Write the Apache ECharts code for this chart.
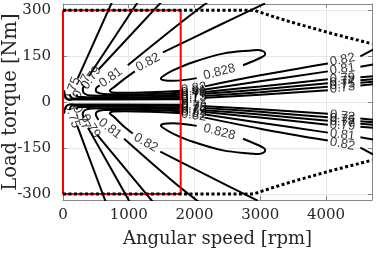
<!DOCTYPE html>
<html><head><meta charset="utf-8">
<script src="https://cdn.jsdelivr.net/npm/echarts@6/dist/echarts.min.js"></script>
<style>html,body{margin:0;padding:0;background:#fff}#c{width:386px;height:253px}</style>
</head><body><div id="c"></div>
<script>
// ---- data (speed in rpm, torque in Nm) ----
const speedTicks = [0, 1000, 2000, 3000, 4000];
const torqueTicks = [-300, -150, 0, 150, 300];
const redBox = [[0,300],[1790,300],[1790,-300],[0,-300],[0,300]];
const limitUpper = [[0,300],[2900,300],[3300,272],[3600,253],[4100,223],[4700,190]];
const limitLower = [[0,-300],[2900,-300],[3300,-272],[3600,-253],[4100,-223],[4700,-190]];

const level0828 = [
  [[2034,78],[1672,69],[1535,71],[1489,77],[1520,84],[1672,103],[1977,130],[2434,158],[2892,169],[2967,170],[3059,164],[3075,155],[3029,147],[2739,120]],
  [[2034,-78],[1672,-69],[1535,-71],[1489,-77],[1520,-84],[1672,-103],[1977,-130],[2434,-158],[2892,-169],[2967,-170],[3059,-164],[3075,-155],[3029,-147],[2739,-120]]
];
const level082 = [
  [[3075,322],[2312,244],[1520,162]],
  [[1093,100],[925,74],[773,48],[712,37],[758,31],[941,30],[1322,32],[1825,37]],
  [[2160,51],[2998,87],[4029,126]],
  [[4523,149],[4721,172]],
  [[2960,-322],[2230,-244],[1480,-162]],
  [[1060,-103],[905,-76],[773,-48],[712,-37],[758,-31],[941,-30],[1322,-32],[1825,-37]],
  [[2160,-51],[2998,-87],[4029,-126]],
  [[4523,-149],[4721,-172]]
];
const level081 = [
  [[2236,332],[1779,257],[986,120]],
  [[559,54],[499,41],[514,32],[620,26],[1017,25],[1825,30]],
  [[2160,41],[2998,67.5],[4029,100]],
  [[4523,115],[4721,123]],
  [[2100,-332],[1660,-257],[930,-120]],
  [[540,-58],[499,-41],[514,-32],[620,-26],[1017,-25],[1825,-30]],
  [[2160,-41],[2998,-67.5],[4029,-100]],
  [[4523,-115],[4721,-123]]
];
const level079 = [
  [[1520,332],[544,107]],
  [[316,51],[300,41],[331,27],[438,21],[864,20],[1825,23.5]],
  [[2160,33],[2998,51],[4029,74]],
  [[4523,80.5],[4721,84]],
  [[1390,-332],[520,-107]],
  [[316,-51],[300,-41],[331,-27],[438,-21],[864,-20],[1825,-23.5]],
  [[2160,-33],[2998,-51],[4029,-74]],
  [[4523,-80.5],[4721,-84]]
];
const level077 = [
  [[1155,332],[392,84]],
  [[209,25],[224,17],[331,16],[864,15.3],[1825,18]],
  [[2160,27],[2998,41],[4029,61]],
  [[4523,71],[4721,74]],
  [[1030,-332],[380,-84]],
  [[209,-25],[224,-17],[331,-16],[864,-15.3],[1825,-18]],
  [[2160,-27],[2998,-41],[4029,-61]],
  [[4523,-71],[4721,-74]]
];
const level075 = [
  [[758,332],[224,77]],
  [[102,25],[133,12.7],[255,11.4],[864,10.4],[1825,12.7]],
  [[2160,20],[2998,32],[4029,50]],
  [[4523,63],[4721,66]],
  [[660,-332],[215,-77]],
  [[102,-25],[133,-12.7],[255,-11.4],[864,-10.4],[1825,-12.7]],
  [[2160,-20],[2998,-32],[4029,-50]],
  [[4523,-63],[4721,-66]]
];
const level073 = [
  [[18,38],[41,15.3],[102,7.8],[1825,8.8]],
  [[2160,13.7],[2998,23.5],[4029,38]],
  [[4523,54],[4721,58]],
  [[18,-38],[41,-15.3],[102,-7.8],[1825,-8.8]],
  [[2160,-13.7],[2998,-23.5],[4029,-38]],
  [[4523,-54],[4721,-58]]
];

// contour labels: [text, speed, torque]
const contourLabels = [
  ['0.82',1291,129],['0.81',727,80],['0.79',430,79],['0.77',285,51],['0.75',140,41],
  ['0.82',1990,44],['0.81',1990,35.5],['0.79',1990,28],['0.77',1990,22.5],['0.75',1990,16],['0.73',1990,11],
  ['0.828',2380,98],
  ['0.82',4250,137.5],['0.81',4250,107.5],['0.79',4250,77],['0.77',4250,66],['0.75',4250,56.5],['0.73',4250,46],
  ['0.82',1260,-133],['0.81',715,-87],['0.79',420,-79],['0.77',280,-51],['0.75',140,-45],
  ['0.82',1990,-44],['0.81',1990,-35.5],['0.79',1990,-28],['0.77',1990,-22.5],['0.75',1990,-16],['0.73',1990,-11],
  ['0.828',2380,-98],
  ['0.82',4250,-137.5],['0.81',4250,-107.5],['0.79',4250,-77],['0.77',4250,-66],['0.75',4250,-56.5],['0.73',4250,-46]
];
const labelAngles = [
  28,36,55,63,70, 8,8,8,8,8,8, 14, 11,7,3,5,6,7,
  -30,-38,-57,-65,-72, -8,-8,-8,-8,-8,-8, -14, -11,-7,-3,-5,-6,-7
];

// ---- chart ----
const AX = '#868686';
const TXT = '#262626';
const series = [];
[level0828, level082, level081, level079, level077, level075, level073].forEach(level => {
  level.forEach(seg => series.push({
    type:'line', data:seg, showSymbol:false, smooth:0.35, silent:true,
    lineStyle:{color:'#000', width:2}, z:2
  }));
});
series.push({type:'line', data:redBox, showSymbol:false, silent:true,
  lineStyle:{color:'#ff0000', width:2}, z:3});
[limitUpper, limitLower].forEach(d => series.push({
  type:'line', data:d, showSymbol:false, silent:true,
  lineStyle:{color:'#000', width:3, type:[3,2.5], cap:'butt'}, z:4
}));
series.push({
  type:'scatter', symbolSize:0, silent:true, z:5,
  data: contourLabels.map((l,i) => ({value:[l[1], l[2]], label:{formatter:l[0], rotate:labelAngles[i]}})),
  label:{show:true, position:'inside', color:'#000', fontFamily:'Liberation Sans', fontSize:13}
});

const plain = v => String(v);
const chart = echarts.init(document.getElementById('c'), null, {renderer:'canvas'});
chart.setOption({
  animation:false,
  backgroundColor:'#fff',
  grid:{left:63, right:14, top:4, bottom:53, containLabel:false, outerBoundsMode:'none'},
  xAxis:[{
    type:'value', min:0, max:4700, position:'bottom',
    axisLine:{show:true, onZero:false, lineStyle:{color:AX}},
    axisTick:{show:true, inside:true, length:4, customValues:speedTicks, lineStyle:{color:AX}},
    axisLabel:{customValues:speedTicks, formatter:plain, fontFamily:'DejaVu Serif', fontSize:15, color:TXT, margin:8},
    splitLine:{show:true, lineStyle:{color:'#e6e6e6'}},
    name:'Angular speed [rpm]', nameLocation:'middle', nameGap:30, nameMoveOverlap:false,
    nameTextStyle:{fontFamily:'DejaVu Serif', fontSize:18, color:TXT}
  },{
    type:'value', min:0, max:4700, position:'top',
    axisLine:{show:true, onZero:false, lineStyle:{color:AX}},
    axisTick:{show:true, inside:true, length:4, customValues:speedTicks, lineStyle:{color:AX}},
    axisLabel:{show:false}, splitLine:{show:false}
  }],
  yAxis:[{
    type:'value', min:-320, max:320, position:'left',
    axisLine:{show:true, onZero:false, lineStyle:{color:AX}},
    axisTick:{show:true, inside:true, length:4, customValues:torqueTicks, lineStyle:{color:AX}},
    axisLabel:{customValues:torqueTicks, formatter:plain, fontFamily:'DejaVu Serif', fontSize:15, color:TXT, margin:12},
    splitLine:{show:true, lineStyle:{color:'#e6e6e6'}},
    name:'Load torque [Nm]', nameLocation:'middle', nameGap:42, nameMoveOverlap:false,
    nameTextStyle:{fontFamily:'DejaVu Serif', fontSize:19.5, color:TXT}
  },{
    type:'value', min:-320, max:320, position:'right',
    axisLine:{show:true, onZero:false, lineStyle:{color:AX}},
    axisTick:{show:true, inside:true, length:4, customValues:torqueTicks, lineStyle:{color:AX}},
    axisLabel:{show:false}, splitLine:{show:false}
  }],
  series: series
});
</script>
</body></html>
